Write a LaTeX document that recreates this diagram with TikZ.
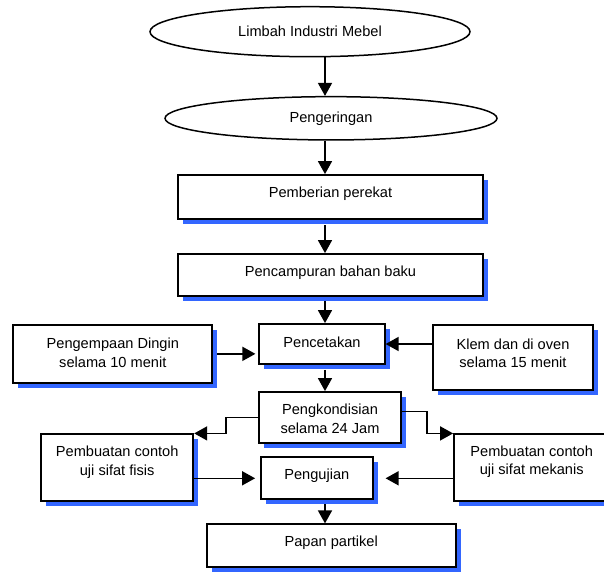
\documentclass[tikz,border=0pt]{standalone}
\usepackage{fontspec}
\setmainfont{Liberation Sans}
\usetikzlibrary{shapes.geometric,arrows.meta,calc}
\definecolor{shadowblue}{RGB}{51,102,255}
\newcommand{\flowbox}[6]{%
  \fill[shadowblue] ({#2+5},{#3+5}) rectangle ({#4+5},{#5+5});
  \node[boxst, minimum width={(#4-#2)*1pt}, minimum height={(#5-#3)*1pt}] (#1) at ({(#2+#4)/2},{(#3+#5)/2}) {};
}
\begin{document}
\begin{tikzpicture}[x=1pt,y=-1pt,
  boxst/.style={draw, line width=1.8pt, fill=white, inner sep=0pt, rectangle},
  ellst/.style={draw, ellipse, line width=1.5pt, fill=white, inner sep=0pt, font=\fontsize{14.6}{18.5}\selectfont},
  txt/.style={inner sep=0pt, align=center, font=\fontsize{14.6}{18.5}\selectfont},
  arr/.style={line width=1.6pt, -{Triangle[length=13pt,width=14pt]}},
  conn/.style={line width=1.6pt}]
\useasboundingbox (0,0) rectangle (604,571);
\coordinate (axis) at (325,0);
\coordinate (kL) at (226,0);
\coordinate (kR) at (426.7,0);

\node[ellst, minimum width=320pt, minimum height=50pt] (e1) at (310,31.7) {Limbah Industri Mebel};
\node[ellst, minimum width=332pt, minimum height=43.3pt] (e2) at (331,118.3) {Pengeringan};

\flowbox{b1}{178.3}{175}{482.7}{219.3}{}
\node[txt] (b1t) at (330.5,194) {Pemberian perekat};
\flowbox{b2}{178.3}{254}{482.7}{296}{}
\node[txt] (b2t) at (330.5,273) {Pencampuran bahan baku};
\flowbox{pg}{13.3}{325}{212.3}{382.7}{}
\node[txt] (pgt) at (112.8,353) {Pengempaan Dingin\\selama 10 menit};
\flowbox{pc}{259.3}{324}{384.7}{364}{}
\node[txt] (pct) at (322,342) {Pencetakan};
\flowbox{kl}{433.3}{325}{592.7}{390}{}
\node[txt] (klt) at (513,353.5) {Klem dan di oven\\selama 15 menit};
\flowbox{pk}{259.3}{392}{400.7}{442.7}{}
\node[txt] (pkt) at (330,419) {Pengkondisian\\selama 24 Jam};
\flowbox{fs}{41}{434.3}{193.3}{501}{}
\node[txt] (fst) at (117.2,462) {Pembuatan contoh\\uji sifat fisis};
\flowbox{mk}{454}{434.3}{612}{501}{}
\node[txt] (mkt) at (531.7,461.5) {Pembuatan contoh\\uji sifat mekanis};
\flowbox{pj}{261}{457.3}{372.7}{499.3}{}
\node[txt] (pjt) at (316.8,476) {Pengujian};
\flowbox{pp}{206.7}{524.3}{455.7}{567.3}{}
\node[txt] (ppt) at (331.2,542.5) {Papan partikel};

\draw[arr] (axis |- e1.south) -- (axis |- e2.north);
\draw[arr] (axis |- e2.south) -- (axis |- b1.north);
\draw[arr] ($(axis |- b1.south)+(0,5)$) -- (axis |- b2.north);
\draw[arr] ($(axis |- b2.south)+(0,4)$) -- (axis |- pc.north);
\draw[arr, shorten >=3pt] ($(pg.east)+(4,0)$) -- (pg.east -| pc.west);
\draw[arr] (kl.west |- pc.east) -- (pc.east);
\draw[arr] ($(axis |- pc.south)+(0,5)$) -- (axis |- pk.north);
\draw[arr] (pk.west) -- (pk.west -| kL) |- (fs.north east);
\draw[arr] ($(pk.east)+(0,-6)$) -| (kR |- mk.north west) -- (mk.north west);
\draw[arr, shorten >=5pt] (fs.east |- pj.west) -- (pj.west);
\draw[arr, shorten >=12pt] (mk.west |- pj.east) -- (pj.east);
\draw[arr] ($(axis |- pj.south)+(0,4)$) -- (axis |- pp.north);
\end{tikzpicture}
\end{document}
